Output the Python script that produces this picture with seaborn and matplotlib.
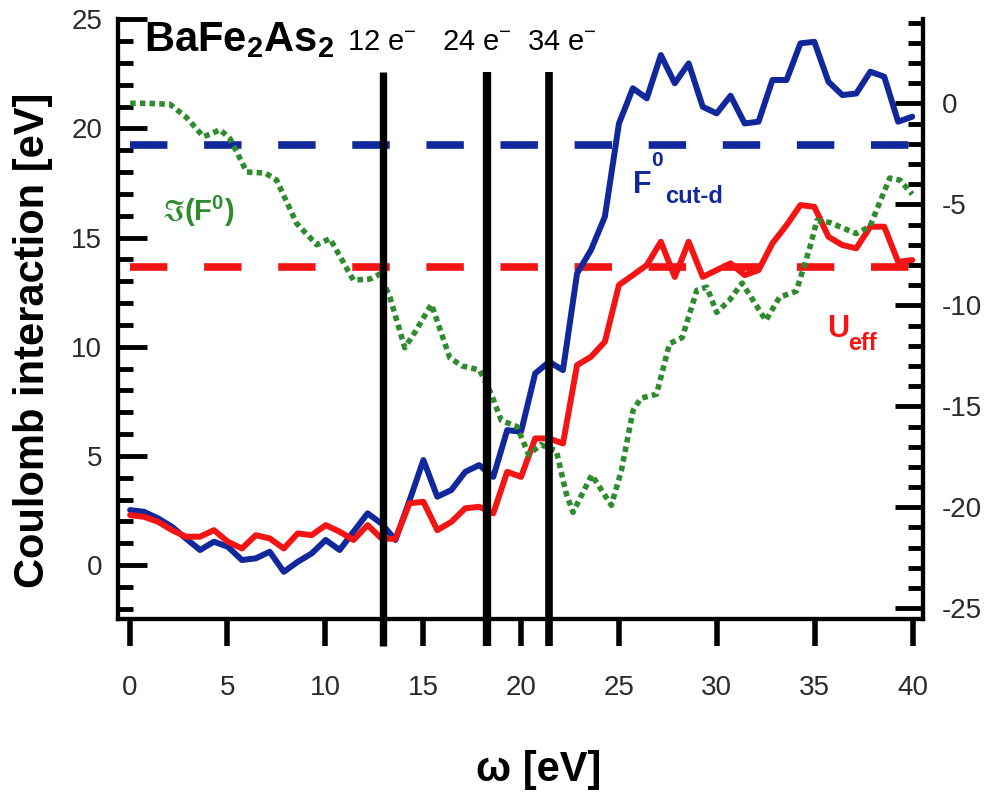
import numpy as np
import pandas as pd
import matplotlib
matplotlib.use("Agg")
import matplotlib.pyplot as plt
import seaborn as sns

# ---------------- data ----------------
omega = [0.03, 0.74, 1.46, 2.17, 2.88, 3.6, 4.31, 5.02, 5.74, 6.45, 7.16, 7.88, 8.59, 9.3,
         10.02, 10.73, 11.44, 12.16, 12.87, 13.58, 14.3, 15.01, 15.72, 16.44, 17.15, 17.86,
         18.58, 19.29, 20.0, 20.72, 21.43, 22.14, 22.86, 23.57, 24.28, 25.0, 25.71, 26.42,
         27.14, 27.85, 28.56, 29.28, 29.99, 30.7, 31.42, 32.13, 32.84, 33.56, 34.27, 34.98,
         35.7, 36.41, 37.12, 37.84, 38.55, 39.26, 39.98]

f0_cut_d = [2.52, 2.44, 2.14, 1.75, 1.22, 0.69, 1.07, 0.84, 0.23, 0.31,
            0.61, -0.31, 0.15, 0.53, 1.15, 0.69, 1.53, 2.37, 1.9, 1.15,
            2.95, 4.81, 3.13, 3.44, 4.27, 4.58, 4.04, 6.18, 6.11, 8.78,
            9.31, 8.93, 13.36, 14.43, 15.96, 20.23, 21.84, 21.38, 23.36, 22.07,
            22.98, 20.99, 20.69, 21.5, 20.23, 20.31, 22.22, 22.22, 23.9, 23.97,
            22.14, 21.53, 21.6, 22.6, 22.37, 20.31, 20.54]

u_eff = [2.29, 2.21, 1.98, 1.6, 1.3, 1.3, 1.6, 1.07, 0.76, 1.37,
         1.22, 0.76, 1.45, 1.37, 1.83, 1.53, 1.15, 1.83, 1.22, 1.2,
         2.83, 2.9, 1.6, 1.98, 2.6, 2.67, 2.37, 4.27, 4.04, 5.8,
         5.8, 5.57, 9.16, 9.54, 10.23, 12.83, 13.28, 13.74, 14.81, 13.2,
         14.81, 13.2, 13.51, 13.82, 13.28, 13.51, 14.74, 15.57, 16.49, 16.41,
         15.04, 14.66, 14.51, 15.5, 15.5, 13.89, 13.97]

omega_im = [0.03, 1.0, 2.07, 2.91, 3.77, 4.2, 4.62, 5.13, 5.99, 6.93,
            7.51, 8.54, 9.56, 10.24, 11.43, 12.29, 12.79, 13.3, 14.06, 14.6,
            15.42, 16.36, 16.98, 17.88, 18.48, 18.99, 19.79, 20.39, 21.0, 21.8,
            22.3, 22.65, 23.61, 24.61, 25.12, 25.72, 26.12, 26.92, 27.58, 28.23,
            28.98, 29.49, 29.99, 30.64, 31.29, 31.85, 32.5, 33.2, 34.06, 34.76,
            35.11, 35.77, 37.12, 37.82, 38.28, 38.83, 39.35, 39.98]
im_f0 = [0.0, 0.0, -0.05, -0.7, -1.65, -1.5, -1.3, -1.75, -3.4, -3.45,
         -3.8, -5.95, -7.0, -6.7, -8.75, -8.7, -8.45, -9.6, -12.1, -11.3,
         -9.95, -12.6, -13.0, -13.2, -14.4, -15.7, -16.0, -17.4, -16.9, -17.2,
         -19.3, -20.25, -18.4, -19.9, -18.2, -15.2, -14.6, -14.4, -11.9, -11.6,
         -9.25, -9.1, -10.35, -9.75, -8.9, -9.75, -10.75, -9.6, -9.3, -7.1,
         -5.8, -5.9, -6.45, -6.1, -5.0, -3.7, -3.8, -4.5]

static_levels = [19.24, 13.66]          # F0_cut-d(0) and U_eff(0)
static_range = [0, 40]
electron_omega = [12.96, 18.24, 21.42]
electron_labels = ["12 e", "24 e", "34 e"]

left_ticks = [0, 5, 10, 15, 20, 25]
right_ticks = [-25, -20, -15, -10, -5, 0]
x_ticks = [0, 5, 10, 15, 20, 25, 30, 35, 40]

# ---------------- style ----------------
sns.set_theme(style="white")
plt.rcParams["font.family"] = ["Liberation Sans", "DejaVu Sans"]
plt.rcParams["text.color"] = "black"
plt.rcParams["axes.labelcolor"] = "black"
plt.rcParams["mathtext.fontset"] = "custom"
plt.rcParams["mathtext.rm"] = "Liberation Sans"
plt.rcParams["mathtext.bf"] = "Liberation Sans:bold"
plt.rcParams["mathtext.it"] = "Liberation Sans:italic"
plt.rcParams["mathtext.default"] = "regular"

BLUE = "#10289c"
RED = "#f51414"
GREEN = "#2e8b2e"
TICKC = "#2a2a2a"

fig = plt.figure(figsize=(9.9, 7.92), dpi=100)
L, R, B, T = 118, 923, 619, 19.3
ax = fig.add_axes([L / 990, 1 - B / 792, (R - L) / 990, (B - T) / 792])
ax.set_xlim(-0.59, 40.53)
ax.set_ylim(-2.47, 25)

df = pd.DataFrame({"omega": omega, "F0": f0_cut_d, "U": u_eff})
dfi = pd.DataFrame({"omega": omega_im, "ImF0": im_f0})

# static dashed levels
for lvl, col in zip(static_levels, [BLUE, RED]):
    sns.lineplot(x=static_range, y=[lvl, lvl], ax=ax, color=col, lw=5.5,
                 linestyle=(0, (4.9, 4.8)), legend=False, zorder=2)

sns.lineplot(data=df, x="omega", y="F0", ax=ax, color=BLUE, lw=4.3, legend=False, zorder=3)
sns.lineplot(data=df, x="omega", y="U", ax=ax, color=RED, lw=4.3, legend=False, zorder=4)

ax2 = ax.twinx()
ax2.set_ylim(-25.53, 4.16)
sns.lineplot(data=dfi, x="omega", y="ImF0", ax=ax2, color=GREEN, lw=4.0,
             linestyle=(0, (1.0, 0.75)), legend=False, zorder=3)

for xv, w in zip(electron_omega, [5.3, 6.0, 5.5]):
    ax2.axvline(xv, ymin=-0.045, ymax=0.912, color="black", lw=w, clip_on=False, zorder=6,
                solid_capstyle="butt")

# ---------------- axes & ticks ----------------
for a in (ax, ax2):
    a.spines["top"].set_visible(False)
    for s in ("left", "right", "bottom"):
        a.spines[s].set_linewidth(3)
        a.spines[s].set_color("black")
    a.set_xlabel("")
    a.set_ylabel("")

ax.set_xticks(x_ticks)
ax.set_xticklabels([str(v) for v in x_ticks])
ax.set_yticks(left_ticks)
ax.set_yticklabels([str(v) for v in left_ticks])
ax.set_yticks(np.arange(-2, 26, 1), minor=True)
ax.tick_params(axis="x", which="major", direction="out", length=19.5, width=4,
               pad=21, labelsize=20, labelcolor=TICKC, bottom=True, color="black")
ax.tick_params(axis="y", which="major", direction="in", length=21, width=3.5,
               pad=11.5, labelsize=20, labelcolor=TICKC, left=True, right=False, color="black")
ax.tick_params(axis="y", which="minor", direction="in", length=10.5, width=3.5,
               left=True, right=False, color="black")

ax2.set_yticks(right_ticks)
ax2.set_yticklabels([str(v) for v in right_ticks])
ax2.set_yticks(np.arange(-25, 5, 1), minor=True)
ax2.tick_params(axis="y", which="major", direction="in", length=20, width=3.5,
                pad=13.5, labelsize=20, labelcolor=TICKC, right=True, color="black")
ax2.tick_params(axis="y", which="minor", direction="in", length=10.5, width=3.5,
                right=True, color="black")

# ---------------- labels & annotations ----------------
fig.text(33 / 990, 1 - 340 / 792, "Coulomb interaction [eV]", rotation=90,
         ha="center", va="center", fontsize=30, fontweight="bold", color="black")
fig.text(539 / 990, 1 - 770 / 792, "ω [eV]", ha="center", va="center",
         fontsize=30, fontweight="bold", color="black")

ax.text(0.75, 23.55, r"BaFe$_\mathbf{2}$As$_\mathbf{2}$", fontsize=30, fontweight="bold",
        ha="left", va="baseline", zorder=7, color="black")

for xl, lab in zip([11.1, 15.95, 20.3], electron_labels):
    ax.text(xl, 23.6, lab + r"$^{-}$", fontsize=21, ha="left", va="baseline", zorder=7,
            color="black")

ax.text(3.5, 16.2, r"$\Im$(F$^{\mathbf{0}}$)", fontsize=21, fontweight="bold",
        color=GREEN, ha="center", va="center", zorder=7)

ax.text(25.71, 17.04, "F", fontsize=22, fontweight="bold", color=BLUE,
        ha="left", va="baseline", zorder=7)
ax.text(26.65, 18.3, "0", fontsize=15, fontweight="bold", color=BLUE,
        ha="left", va="baseline", zorder=7)
ax.text(27.35, 16.58, "cut-d", fontsize=17, fontweight="bold", color=BLUE,
        ha="left", va="baseline", zorder=7)

ax.text(35.62, 10.44, "U", fontsize=22, fontweight="bold", color=RED,
        ha="left", va="baseline", zorder=7)
ax.text(36.7, 9.85, "eff", fontsize=17, fontweight="bold", color=RED,
        ha="left", va="baseline", zorder=7)

fig.savefig("out.png", dpi=100)
